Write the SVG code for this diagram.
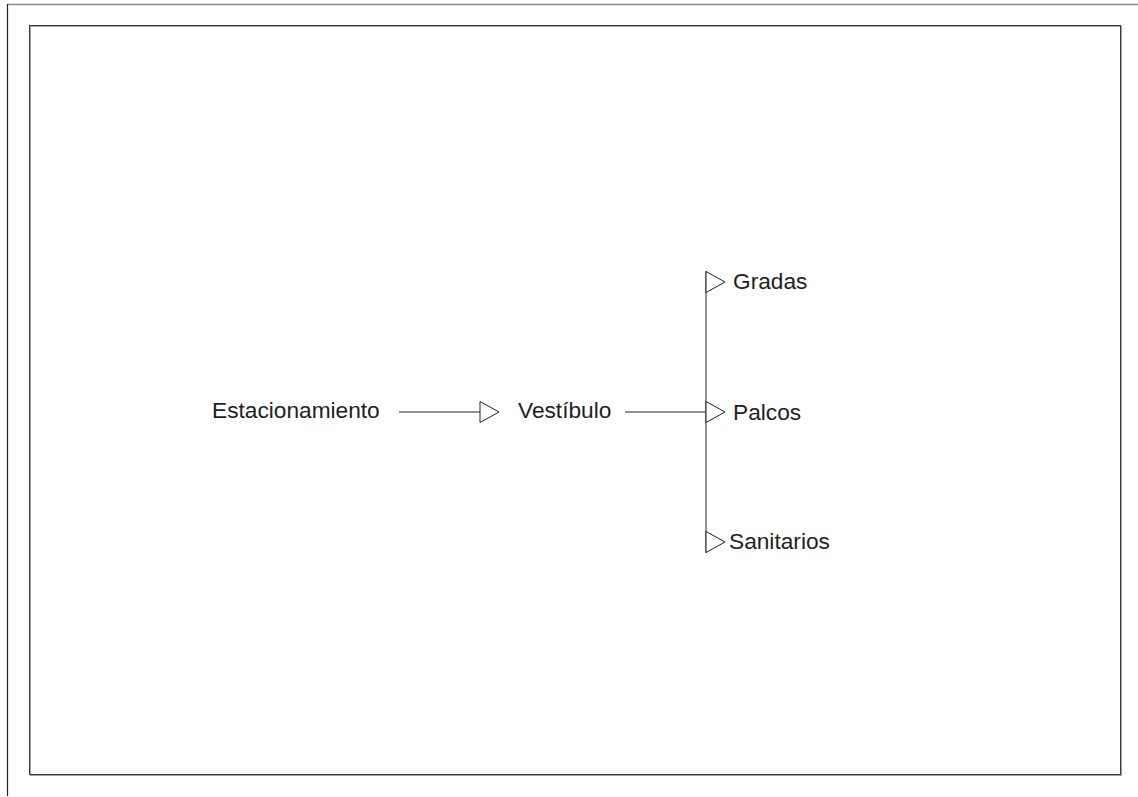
<svg xmlns="http://www.w3.org/2000/svg" width="1138" height="797" viewBox="0 0 1138 797">
<style>
.lbl{font-family:"Liberation Sans",Arial,sans-serif;font-size:22.7px;fill:#1e1e1e}
.ln{stroke:#222;stroke-width:1;fill:none}
.tri{stroke:#222;stroke-width:1;fill:#fff;stroke-linejoin:miter}
</style>
<rect width="1138" height="797" fill="#fff"/>
<g id="frame">
<line x1="7" y1="4.5" x2="1138" y2="4.5" stroke="#8a8a8a" stroke-width="1.5"/>
<line x1="7.5" y1="4" x2="7.5" y2="796" stroke="#222" stroke-width="1.2"/>
<rect x="30.5" y="26.5" width="1091" height="749" fill="none" stroke="#a0a0a0" stroke-width="1"/>
<rect x="29.5" y="25.5" width="1091" height="749" fill="none" stroke="#3a3a3a" stroke-width="1"/>
</g>
<g id="connectors">
<line class="ln" x1="399" y1="412" x2="480" y2="412"/>
<polygon class="tri" points="480,401.5 499,412 480,422.5"/>
<line class="ln" x1="625" y1="412" x2="706" y2="412"/>
<line class="ln" x1="706" y1="271" x2="706" y2="553"/>
<polygon class="tri" points="706,271.5 725,282 706,292.5"/>
<polygon class="tri" points="706,401.5 725,412 706,422.5"/>
<polygon class="tri" points="706,531.5 725,542 706,552.5"/>
</g>
<g id="estacionamiento"><text class="lbl" x="212" y="418">Estacionamiento</text></g>
<g id="vestibulo"><text class="lbl" x="518" y="418">Vestíbulo</text></g>
<g id="gradas"><text class="lbl" x="733" y="289">Gradas</text></g>
<g id="palcos"><text class="lbl" x="733" y="420">Palcos</text></g>
<g id="sanitarios"><text class="lbl" x="729" y="549">Sanitarios</text></g>
</svg>
